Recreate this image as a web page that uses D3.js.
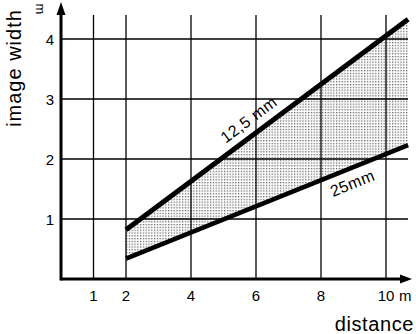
<!DOCTYPE html>
<html>
<head>
<meta charset="utf-8">
<script src="https://cdn.jsdelivr.net/npm/d3@7"></script>
<style>
  html, body { margin: 0; padding: 0; background: #fff; }
  svg { display: block; font-family: "Liberation Sans", Arial, Helvetica, sans-serif; }
</style>
</head>
<body>
<svg id="chart" width="416" height="334"></svg>
<script>
// Image width (m) against distance (m) for two lens focal lengths
const distance = [2, 10.68];
const lens125 = [0.82, 4.33];   // 12,5 mm lens
const lens25 = [0.34, 2.23];    // 25 mm lens
const seriesLabels = ["12,5 mm", "25mm"];
const xTicks = [1, 2, 4, 6, 8, 10];
const yTicks = [1, 2, 3, 4];

const svg = d3.select("#chart");
const x = d3.scaleLinear().domain([0, 10]).range([61, 386]);
const y = d3.scaleLinear().domain([0, 4]).range([279, 39]);

const defs = svg.append("defs");
const pat = defs.append("pattern")
  .attr("id", "stipple").attr("patternUnits", "userSpaceOnUse")
  .attr("width", 2.8).attr("height", 2.8);
pat.append("rect").attr("width", 1.3).attr("height", 1.3).attr("fill", "#666");

// stippled band between the two lenses
const band = distance.map((d, i) => ({ d, lo: lens25[i], hi: lens125[i] }));
svg.append("path")
  .datum(band)
  .attr("fill", "url(#stipple)")
  .attr("d", d3.area().x(p => x(p.d)).y0(p => y(p.lo)).y1(p => y(p.hi)));

// grid
const xTop = 15, xRight = 408;
svg.append("g").selectAll("line").data(xTicks).join("line")
  .attr("x1", d => x(d)).attr("x2", d => x(d))
  .attr("y1", y(0)).attr("y2", xTop)
  .attr("stroke", "#000").attr("stroke-width", 1.3);
svg.append("g").selectAll("line").data(yTicks).join("line")
  .attr("x1", x(0)).attr("x2", xRight)
  .attr("y1", d => y(d)).attr("y2", d => y(d))
  .attr("stroke", "#000").attr("stroke-width", 1.6);

// axes with arrow heads
svg.append("line").attr("x1", x(0)).attr("x2", 404).attr("y1", y(0)).attr("y2", y(0))
  .attr("stroke", "#000").attr("stroke-width", 3);
svg.append("path").attr("d", `M412,${y(0)} L400,${y(0) - 4.5} L400,${y(0) + 4.5} Z`).attr("fill", "#000");
svg.append("line").attr("x1", x(0)).attr("x2", x(0)).attr("y1", y(0) + 1.5).attr("y2", 12)
  .attr("stroke", "#000").attr("stroke-width", 3);
svg.append("path").attr("d", `M${x(0)},2 L${x(0) - 4.5},15 L${x(0) + 4.5},15 Z`).attr("fill", "#000");

// lens lines
const line = d3.line().x(p => x(p[0])).y(p => y(p[1]));
svg.append("path").datum(distance.map((d, i) => [d, lens125[i]]))
  .attr("d", line).attr("stroke", "#000").attr("stroke-width", 5).attr("fill", "none");
svg.append("path").datum(distance.map((d, i) => [d, lens25[i]]))
  .attr("d", line).attr("stroke", "#000").attr("stroke-width", 4.5).attr("fill", "none");

// tick labels
svg.append("g").selectAll("text").data(xTicks).join("text")
  .attr("x", d => x(d)).attr("y", 301)
  .attr("text-anchor", "middle").attr("font-size", 15)
  .text(d => d);
svg.append("text").attr("x", 399).attr("y", 301).attr("font-size", 15).text("m");
svg.append("g").selectAll("text").data(yTicks).join("text")
  .attr("x", 54).attr("y", d => y(d) + 5.5)
  .attr("text-anchor", "end").attr("font-size", 15)
  .text(d => d);

// axis titles
svg.append("text").attr("x", 414).attr("y", 331)
  .attr("text-anchor", "end").attr("font-size", 20).attr("letter-spacing", 0.6)
  .text("distance");
svg.append("text").attr("transform", "translate(21,68) rotate(-90)")
  .attr("text-anchor", "middle").attr("font-size", 20).attr("letter-spacing", 1)
  .text("image width");
svg.append("text").attr("transform", "translate(36,9) rotate(90)")
  .attr("text-anchor", "middle").attr("font-size", 13)
  .text("m");

// series labels placed along each line
function labelAt(vals, xv, offset, text) {
  const t = (xv - distance[0]) / (distance[1] - distance[0]);
  const yv = vals[0] + t * (vals[1] - vals[0]);
  const dx = x(distance[1]) - x(distance[0]);
  const dy = y(vals[1]) - y(vals[0]);
  const ang = Math.atan2(dy, dx) * 180 / Math.PI;
  svg.append("text")
    .attr("transform", `translate(${x(xv)},${y(yv) + offset}) rotate(${ang})`)
    .attr("text-anchor", "middle").attr("dominant-baseline", "middle")
    .attr("font-size", 16).attr("letter-spacing", 0.5)
    .text(text);
}
labelAt(lens125, 5.8, -17, seriesLabels[0]);
labelAt(lens25, 8.98, 17, seriesLabels[1]);
</script>
</body>
</html>
